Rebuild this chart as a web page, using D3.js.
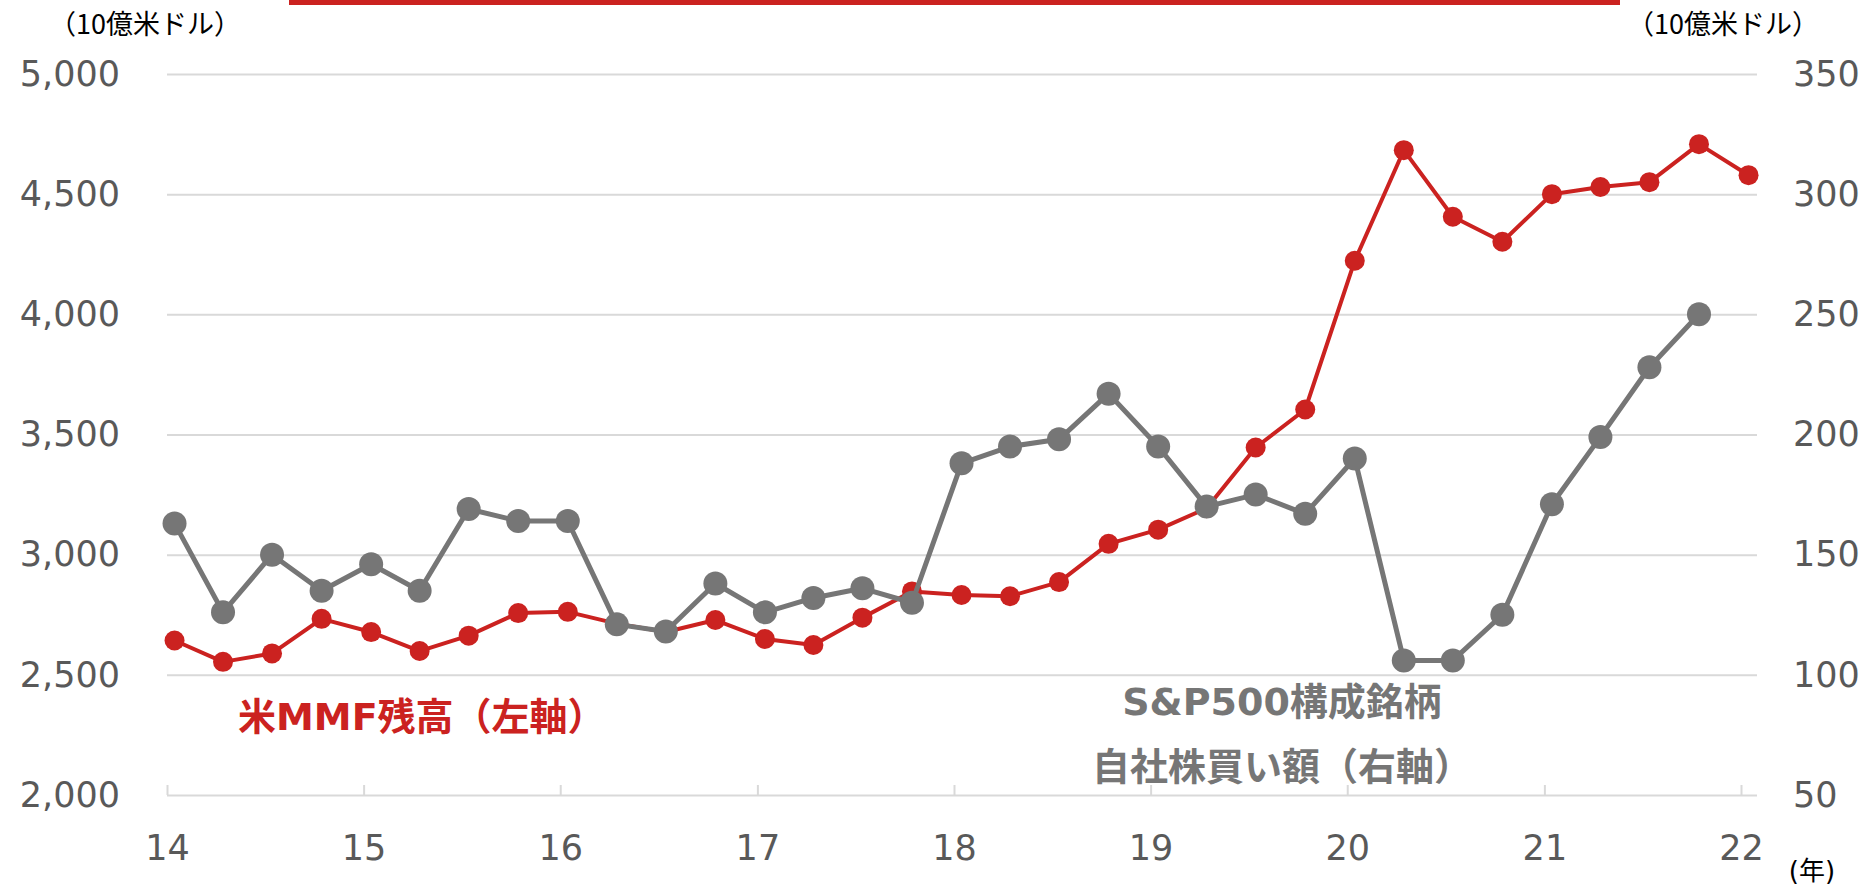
<!DOCTYPE html>
<html><head><meta charset="utf-8">
<script src="https://cdn.jsdelivr.net/npm/d3@7/dist/d3.min.js"></script>
<style>
html,body{margin:0;padding:0;background:#fff;}
svg{display:block;}
</style></head>
<body>
<svg id="chart" width="1865" height="891"></svg>
<script>
// ---- data ----
const dates = [
 "2014-01-15","2014-04-15","2014-07-15","2014-10-15",
 "2015-01-15","2015-04-15","2015-07-15","2015-10-15",
 "2016-01-15","2016-04-15","2016-07-15","2016-10-15",
 "2017-01-15","2017-04-15","2017-07-15","2017-10-15",
 "2018-01-15","2018-04-15","2018-07-15","2018-10-15",
 "2019-01-15","2019-04-15","2019-07-15","2019-10-15",
 "2020-01-15","2020-04-15","2020-07-15","2020-10-15",
 "2021-01-15","2021-04-15","2021-07-15","2021-10-15",
 "2022-01-15"
];
const mmfValues = [2643,2554,2589,2733,2678,2599,2663,2757,2762,2713,2678,2728,2649,2624,2738,2847,
  2832,2827,2886,3045,3104,3193,3446,3604,4223,4683,4406,4302,4500,4530,4550,4708,4579];
const buybackValues = [163,126,150,135,146,135,169,164,164,121,118,138,126,132,136,130,
  188,195,198,217,195,170,175,167,190,106,106,125,171,199,228,250];
const leftTicks = [2000,2500,3000,3500,4000,4500,5000];
const rightTicks = [50,100,150,200,250,300,350];
const yearTicks = ["2014","2015","2016","2017","2018","2019","2020","2021","2022"];
const unitLabel = "（10億米ドル）";
const yearUnit = "(年)";
const mmfLabel = "米MMF残高（左軸）";
const buybackLabel = ["S&P500構成銘柄","自社株買い額（右軸）"];

// ---- style ----
const RED = "#CB2220", GREY = "#767676", GRID = "#D9D9D9", TXT = "#595959";
const numFont = "'DejaVu Sans', Verdana, sans-serif";
const jpFont = "'Noto Sans CJK JP', sans-serif";
const mixFont = "'DejaVu Sans', 'Noto Sans CJK JP', sans-serif";

const svg = d3.select("#chart");
const parse = d3.timeParse("%Y-%m-%d");
const parseY = d3.timeParse("%Y");

const plotLeft = 167, plotRight = 1757, plotTop = 74, plotBottom = 795;

const x = d3.scaleTime().domain([parseY("2014"), parseY("2022")]).range([167, 1741]);
const yL = d3.scaleLinear().domain([2000, 5000]).range([plotBottom, plotTop]);
const yR = d3.scaleLinear().domain([50, 350]).range([plotBottom, plotTop]);

// top red bar
svg.append("rect").attr("x", 289).attr("y", 0).attr("width", 1331).attr("height", 5).attr("fill", RED);

// left axis with gridlines
const gL = svg.append("g").attr("transform", `translate(${plotLeft},0)`)
  .call(d3.axisLeft(yL).tickValues(leftTicks).tickFormat(d3.format(",")).tickSize(-(plotRight - plotLeft)).tickPadding(47));
gL.select(".domain").remove();
gL.selectAll(".tick line").attr("stroke", GRID).attr("stroke-width", 2);
gL.selectAll(".tick text").attr("fill", TXT).style("font-family", numFont).style("font-size", "35px");

// right axis
const gR = svg.append("g").attr("transform", `translate(${plotRight},0)`)
  .call(d3.axisRight(yR).tickValues(rightTicks).tickSize(0).tickPadding(36));
gR.select(".domain").remove();
gR.selectAll(".tick text").attr("fill", TXT).style("font-family", numFont).style("font-size", "35px");

// bottom axis
const gB = svg.append("g").attr("transform", `translate(0,${plotBottom})`)
  .call(d3.axisBottom(x).tickValues(yearTicks.map(parseY)).tickFormat(d3.timeFormat("%y")).tickSize(-10).tickPadding(40));
gB.select(".domain").remove();
gB.selectAll(".tick line").attr("stroke", GRID).attr("stroke-width", 2);
gB.selectAll(".tick text").attr("fill", TXT).style("font-family", numFont).style("font-size", "35px");

// series
const mmf = dates.map((d, i) => ({ date: parse(d), v: mmfValues[i] }));
const bb = buybackValues.map((v, i) => ({ date: parse(dates[i]), v }));

svg.append("path").datum(mmf)
  .attr("fill", "none").attr("stroke", RED).attr("stroke-width", 4).attr("stroke-linejoin", "round")
  .attr("d", d3.line().x(d => x(d.date)).y(d => yL(d.v)));
svg.append("g").selectAll("circle").data(mmf).join("circle")
  .attr("cx", d => x(d.date)).attr("cy", d => yL(d.v)).attr("r", 10).attr("fill", RED);

svg.append("path").datum(bb)
  .attr("fill", "none").attr("stroke", GREY).attr("stroke-width", 5).attr("stroke-linejoin", "round")
  .attr("d", d3.line().x(d => x(d.date)).y(d => yR(d.v)));
svg.append("g").selectAll("circle").data(bb).join("circle")
  .attr("cx", d => x(d.date)).attr("cy", d => yR(d.v)).attr("r", 12).attr("fill", GREY);

// unit labels
svg.append("text").attr("x", 145).attr("y", 22).attr("text-anchor", "middle").attr("dominant-baseline", "central")
  .style("font-family", jpFont).style("font-size", "27px").attr("fill", "#000").text(unitLabel);
svg.append("text").attr("x", 1723).attr("y", 22).attr("text-anchor", "middle").attr("dominant-baseline", "central")
  .style("font-family", jpFont).style("font-size", "27px").attr("fill", "#000").text(unitLabel);
svg.append("text").attr("x", 1812).attr("y", 871).attr("text-anchor", "middle").attr("dominant-baseline", "central")
  .style("font-family", mixFont).style("font-size", "26px").attr("fill", "#000").text(yearUnit);

// series labels
svg.append("text").attr("x", 238).attr("y", 717).attr("dominant-baseline", "central")
  .style("font-family", mixFont).style("font-size", "38px").style("font-weight", "bold").attr("fill", RED).text(mmfLabel);
svg.append("text").attr("x", 1282).attr("y", 702).attr("text-anchor", "middle").attr("dominant-baseline", "central")
  .style("font-family", mixFont).style("font-size", "38px").style("font-weight", "bold").attr("fill", GREY).text(buybackLabel[0]);
svg.append("text").attr("x", 1282).attr("y", 767).attr("text-anchor", "middle").attr("dominant-baseline", "central")
  .style("font-family", mixFont).style("font-size", "38px").style("font-weight", "bold").attr("fill", GREY).text(buybackLabel[1]);
</script>
</body></html>
